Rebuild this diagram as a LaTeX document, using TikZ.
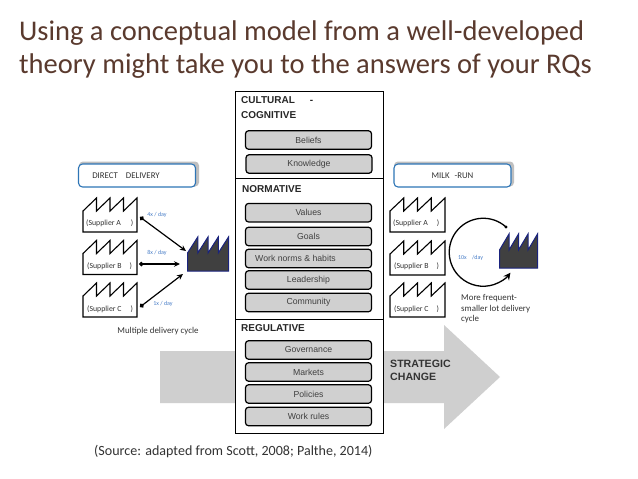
\documentclass[tikz,border=0pt]{standalone}
\usepackage{fontspec}
\setmainfont{Carlito}
\newfontfamily\arialf{Liberation Sans}
\usetikzlibrary{arrows.meta}
\definecolor{titlec}{HTML}{5A3A2E}
\definecolor{pillc}{HTML}{D0D0D0}
\definecolor{arrowc}{HTML}{CFCFCF}
\definecolor{ratec}{HTML}{4A7FC8}
\definecolor{bannerc}{HTML}{2E75B6}
\definecolor{darkf}{HTML}{404040}
\definecolor{navyf}{HTML}{1A237E}
\definecolor{txtc}{HTML}{333333}
\newcommand{\fs}[1]{\fontsize{#1}{#1}\selectfont}
\tikzset{
  x=1pt,y=-1pt,
  pill/.style={draw=black,line width=1.2pt,fill=pillc,rounded corners=3pt,minimum width=126pt,minimum height=18.5pt,inner sep=0pt,font=\arialf\fs{8.7},text=black!75},
  layer/.style={draw=black,line width=1.1pt,fill=white,inner sep=0pt,minimum width=148pt},
  heading/.style={anchor=west,inner sep=0pt,font=\arialf\bfseries\fs{10},text=black!85},
  banner/.style={draw=bannerc,line width=1.1pt,fill=white,rounded corners=4pt,minimum width=117pt,minimum height=23pt,inner sep=0pt,font=\fs{8.8},text=txtc},
  bshadow/.style={fill=black!25,rounded corners=4pt,minimum width=120pt,minimum height=25pt,inner sep=0pt},
  sup/.style={anchor=west,inner sep=0pt,font=\fs{7.8},text=txtc},
  rate/.style={inner sep=0pt,font=\fs{6},text=ratec},
  note/.style={inner sep=0pt,font=\fs{8.9},text=txtc},
  flow/.style={line width=1.2pt,black,{Circle[length=4.5pt]}-{Stealth[length=6pt,width=5.5pt]}},
}
% factory outline: #2 x-left, #3 y-bottom, #4 width, #5 height, #6 shoulder height
\newcommand{\factory}[6][]{%
  \draw[#1] (#2,#3) -- (#2,#3-#6)
    -- (#2+#4*.25,#3-#5) -- (#2+#4*.25,#3-#6)
    -- (#2+#4*.5,#3-#5) -- (#2+#4*.5,#3-#6)
    -- (#2+#4*.75,#3-#5) -- (#2+#4*.75,#3-#6)
    -- (#2+#4,#3-#5) -- (#2+#4,#3) -- cycle;}
\begin{document}
\begin{tikzpicture}
\useasboundingbox (0,0) rectangle (638,479);
\fill[white] (0,0) rectangle (638,479);
% title
\node[anchor=base west,inner sep=0pt,text=titlec,font=\fs{28.5}] (t1) at (19,40) {Using a conceptual model from a well-developed};
\node[anchor=base west,inner sep=0pt,text=titlec,font=\fs{28.5}] (t2) at (19,73) {theory might take you to the answers of your RQs};
% big arrow
\fill[arrowc] (160,351) -- (444,351) -- (444,325) -- (500,377) -- (444,429) -- (444,403) -- (160,403) -- cycle;
% layers
\node[layer,anchor=north west,minimum height=87pt] (cult) at (234.5,91) {};
\node[layer,anchor=north west,minimum height=141pt] (norm) at (234.5,178) {};
\node[layer,anchor=north west,minimum height=114pt] (reg) at (234.5,319) {};
\node[heading] (h1) at (241,100) {CULTURAL\hspace{15pt}-};
\node[heading] (h1b) at (241,115) {COGNITIVE};
\node[heading] (h2) at (242,189) {NORMATIVE};
\node[heading] (h3) at (241,328) {REGULATIVE};
\node[pill] (p1) at (308.5,140) {Beliefs};
\node[pill] (p2) at (309,164) {Knowledge};
\node[pill] (p3) at (308.5,212.7) {Values};
\node[pill] (p4) at (308.5,236.5) {Goals};
\node[pill] (p5) at (308.5,258.5) {\hspace{-26pt}Work norms \& habits};
\node[pill] (p6) at (308.5,280) {Leadership};
\node[pill] (p7) at (308.5,302.5) {Community};
\node[pill] (p8) at (308.5,350) {Governance};
\node[pill] (p9) at (308.5,372) {Markets};
\node[pill] (p10) at (308.5,394) {Policies};
\node[pill] (p11) at (308.5,416.5) {Work rules};
\node[anchor=west,inner sep=0pt,align=left,font=\arialf\bfseries\fs{10.6},text=black!80] (sc) at (390,370.5) {STRATEGIC\\[2.5pt]CHANGE};
% banners
\node[bshadow] (s1) at (139,174) {};
\node[bshadow] (s2) at (454,174) {};
\node[banner] (b1) at (137,175.5) {\hspace{-22pt}DIRECT\hspace{8pt}DELIVERY};
\node[banner] (b2) at (452.5,175.5) {MILK\hspace{3pt} -RUN};
% left suppliers
\factory[line width=1.1pt,fill=white]{83}{232}{54}{34}{21}
\factory[line width=1.1pt,fill=white]{83}{274.5}{54}{34}{21}
\factory[line width=1.1pt,fill=white]{83}{317}{54}{34}{21}
\node[sup] (la) at (86,223) {(Supplier A\hspace{10pt})};
\node[sup] (lb) at (87,266) {(Supplier B\hspace{8pt})};
\node[sup] (lc) at (87,309) {(Supplier C\hspace{9pt})};
% left plant
\factory[line width=1pt,draw=navyf,fill=darkf]{187.5}{271}{41}{34}{18}
\coordinate (pa) at (186,251);
\coordinate (pb) at (180,264);
\coordinate (pc) at (183,274);
\coordinate (sa) at (140,217);
\coordinate (sb) at (139,264);
\coordinate (sc2) at (140,307);
\draw[flow] (sa) -- (pa);
\draw[flow] (sb) -- (pb);
\draw[flow] (sc2) -- (pc);
\node[rate] (r1) at (157,215) {4x / day};
\node[rate] (r2) at (157,253) {8x / day};
\node[rate] (r3) at (163,304) {1x / day};
\node[note] (m1) at (158,331) {Multiple delivery cycle};
% right suppliers
\factory[line width=1.1pt,fill=white]{390}{232}{55}{34}{21}
\factory[line width=1.1pt,fill=white]{390}{275}{55}{34}{21}
\factory[line width=1.1pt,fill=white]{390}{317}{55}{34}{21}
\node[sup] (ra) at (393,223.5) {(Supplier A\hspace{9pt})};
\node[sup] (rb) at (394,266.5) {(Supplier B\hspace{8pt})};
\node[sup] (rc) at (394,309.5) {(Supplier C\hspace{8pt})};
% right plant
\factory[line width=1pt,draw=navyf,fill=darkf]{499.5}{268}{38}{34}{18}
\coordinate (arcstart) at (506,227);
\draw[line width=1.3pt,black,-{Stealth[length=7pt,width=7pt]}] (arcstart) arc[start angle=-48,end angle=-323,radius=34];
\fill[black] (arcstart) circle (1.6);
\node[rate] (r4) at (470.5,258) {10x\hspace{4pt} /day};
\node[anchor=north west,inner sep=0pt,align=left,font=\fs{8.9},text=txtc] (m2) at (461,294.5) {More frequent-\\[1.6pt]smaller lot delivery\\[1.6pt]cycle};
% source
\node[anchor=west,inner sep=0pt,font=\fs{14.05},text=txtc] (src) at (94,451) {(Source: adapted from Scott, 2008; Palthe, 2014)};
\end{tikzpicture}
\end{document}
